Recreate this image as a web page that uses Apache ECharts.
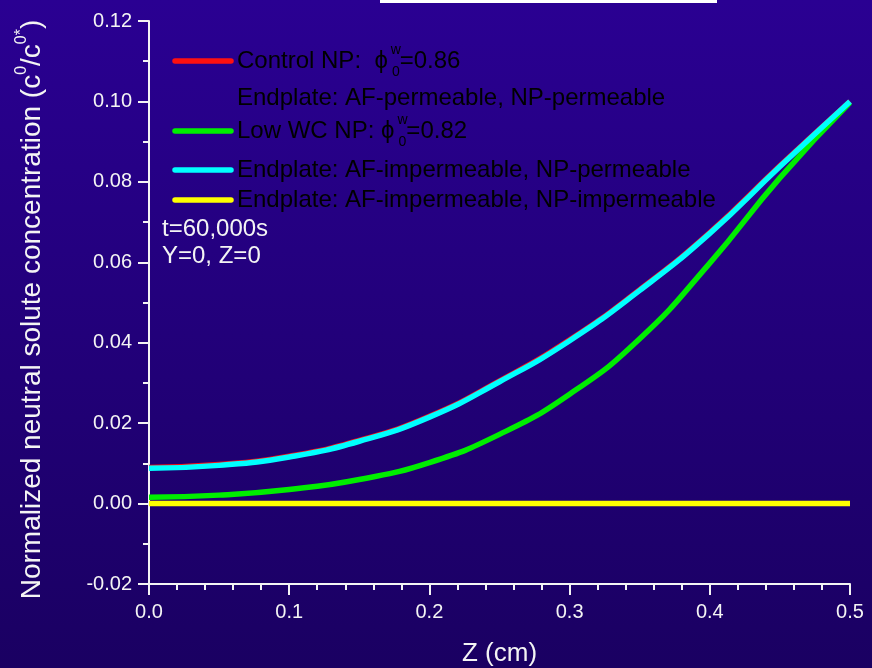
<!DOCTYPE html>
<html>
<head>
<meta charset="utf-8">
<script src="https://cdn.jsdelivr.net/npm/echarts@6/dist/echarts.min.js"></script>
<style>
html,body{margin:0;padding:0;width:872px;height:668px;overflow:hidden;
background:linear-gradient(to bottom,#2a0092 0%,#1a0062 100%);}
#chart{width:872px;height:668px;}
</style>
</head>
<body>
<div id="chart"></div>
<script>
// ---- data ----
var zValues = [0, 0.05, 0.1, 0.15, 0.2, 0.25, 0.3, 0.35, 0.4, 0.45, 0.5];
var controlNP = [0.0090, 0.0097, 0.0118, 0.0157, 0.0217, 0.0305, 0.0407, 0.0532, 0.0674, 0.0840, 0.1000];
var lowWcNP   = [0.0016, 0.0021, 0.0035, 0.0060, 0.0102, 0.0172, 0.0272, 0.0410, 0.0598, 0.0810, 0.0997];
var afImpNpPerm = [0.0088, 0.0095, 0.0116, 0.0155, 0.0215, 0.0303, 0.0405, 0.0530, 0.0672, 0.0838, 0.1000];
var afImpNpImp  = [0, 0, 0, 0, 0, 0, 0, 0, 0, 0, 0];
var xTicks = [0, 0.1, 0.2, 0.3, 0.4, 0.5];
var yTicks = [-0.02, 0, 0.02, 0.04, 0.06, 0.08, 0.10, 0.12];

function pairs(ys){ return zValues.map(function(z,i){ return [z, ys[i]]; }); }

var TXT = '#f4f4f4';
var FONT = 'Liberation Sans, Arial, sans-serif';

var chart = echarts.init(document.getElementById('chart'), null, {renderer:'canvas'});

function lineSeries(name, data, color){
  return {
    name: name, type: 'line', data: pairs(data), smooth: 0.5,
    showSymbol: false,
    lineStyle: {color: color, width: 5.5}, itemStyle: {color: color}, silent: true,
    animation: false
  };
}

var legendRows = [
  {color:'#ff1010', y:61, text:'{a|Control NP:  ϕ}{sup|w}{sub|0}{a|=0.86}'},
  {color:null, y:98, text:'{a|Endplate: AF-permeable, NP-permeable}'},
  {color:'#00ee00', y:131, text:'{a|Low WC NP: ϕ}{sup|w}{sub|0}{a|=0.82}'},
  {color:'#00ffff', y:170, text:'{a|Endplate: AF-impermeable, NP-permeable}'},
  {color:'#ffff00', y:200, text:'{a|Endplate: AF-impermeable, NP-impermeable}'}
];
var richLegend = {
  a: {fontSize: 24, fontFamily: FONT, color: TXT, lineHeight: 36, verticalAlign: 'middle'},
  sup: {fontSize: 14, fontFamily: FONT, color: TXT, lineHeight: 14, verticalAlign: 'top', padding:[0,0,0,3]},
  sub: {fontSize: 14, fontFamily: FONT, color: TXT, lineHeight: 14, verticalAlign: 'bottom', padding:[0,0,0,-9]}
};
var graphics = [
  {type:'rect', shape:{x:380, y:0, width:337, height:3}, style:{fill:'#ffffff'}, silent:true}
];
legendRows.forEach(function(r){
  if (r.color) {
    graphics.push({type:'line', shape:{x1:175, y1:r.y, x2:231, y2:r.y},
      style:{stroke:r.color, lineWidth:5.5, lineCap:'round'}, silent:true});
  }
  graphics.push({type:'text', x:237, y:r.y, silent:true,
    style:{text:r.text, rich:richLegend, verticalAlign:'middle', align:'left'}});
});
graphics.push({type:'text', x:162, y:229, silent:true,
  style:{text:'t=60,000s', fontSize:24, fontFamily:FONT, fill:TXT, verticalAlign:'middle'}});
graphics.push({type:'text', x:162, y:256, silent:true,
  style:{text:'Y=0, Z=0', fontSize:24, fontFamily:FONT, fill:TXT, verticalAlign:'middle'}});

var option = {
  backgroundColor: 'transparent',
  animation: false,
  grid: {left:149, right:22, top:21, bottom:84, containLabel:false, outerBoundsMode:'none'},
  xAxis: {
    type:'value', min:0, max:0.5, interval:0.1,
    axisLine:{onZero:false, lineStyle:{color:TXT, width:2}},
    axisTick:{show:true, length:11, lineStyle:{color:TXT, width:2}},
    minorTick:{show:true, splitNumber:5, length:6, lineStyle:{color:TXT, width:2}},
    splitLine:{show:false},
    axisLabel:{color:TXT, fontSize:20, fontFamily:FONT, margin:18,
      formatter:function(v){ return v.toFixed(1); }},
    name:'Z (cm)', nameLocation:'middle', nameGap:57,
    nameTextStyle:{color:TXT, fontSize:26, fontFamily:FONT}
  },
  yAxis: {
    type:'value', min:-0.02, max:0.12, interval:0.02,
    axisLine:{onZero:false, lineStyle:{color:TXT, width:2}},
    axisTick:{show:true, length:11, lineStyle:{color:TXT, width:2}},
    minorTick:{show:true, splitNumber:2, length:6, lineStyle:{color:TXT, width:2}},
    splitLine:{show:false},
    axisLabel:{color:TXT, fontSize:20, fontFamily:FONT, margin:17,
      formatter:function(v){ return v.toFixed(2); }},
    name:'{a|Normalized neutral solute concentration (c}{s|0}{a|/c}{s|0*}{a|)}',
    nameLocation:'middle', nameGap:103,
    nameTextStyle:{
      padding:[0,14,0,0],
      rich:{
        a:{color:TXT, fontSize:28, fontFamily:FONT, lineHeight:32, verticalAlign:'bottom'},
        s:{color:TXT, fontSize:16, fontFamily:FONT, lineHeight:32, verticalAlign:'top'}
      }
    }
  },
  series: [
    lineSeries('Control NP', controlNP, '#ff1010'),
    lineSeries('Low WC NP', lowWcNP, '#00ee00'),
    lineSeries('AF-impermeable, NP-permeable', afImpNpPerm, '#00ffff'),
    lineSeries('AF-impermeable, NP-impermeable', afImpNpImp, '#ffff00')
  ],
  graphic: graphics
};
chart.setOption(option);
</script>
</body>
</html>
